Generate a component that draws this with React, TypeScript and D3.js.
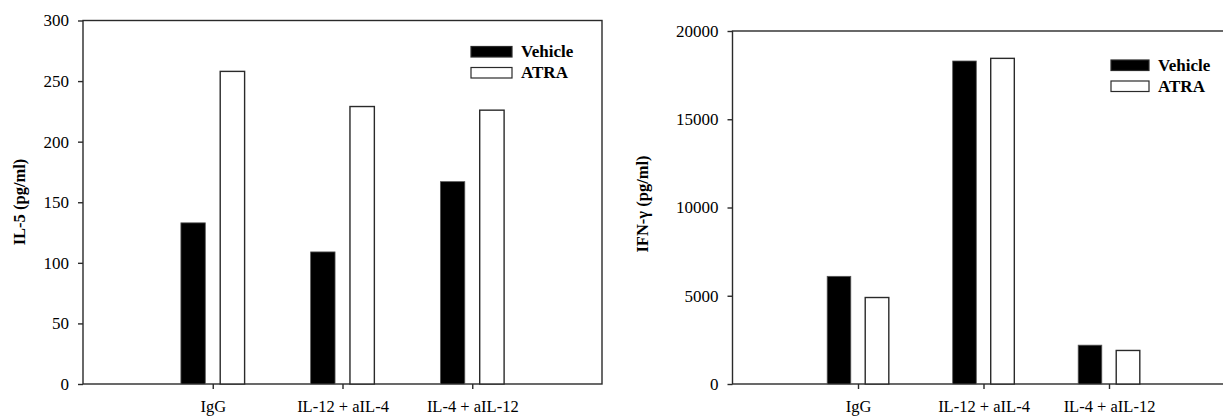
import React, { useEffect, useRef } from 'react';
import * as d3 from 'd3';

const categories = ['IgG', 'IL-12 + aIL-4', 'IL-4 + aIL-12'];
const seriesNames = ['Vehicle', 'ATRA'];

// IL-5 (pg/ml)
const il5Vehicle = [133, 109, 167];
const il5Atra = [258, 229, 226];
const il5Ticks = [0, 50, 100, 150, 200, 250, 300];

// IFN-γ (pg/ml)
const ifnVehicle = [6100, 18300, 2200];
const ifnAtra = [4900, 18450, 1900];
const ifnTicks = [0, 5000, 10000, 15000, 20000];

const FONT = '"Liberation Serif", "Times New Roman", serif';
const LINE = '#2a2a2a';

interface PanelSpec {
  left: number;
  right: number;
  top: number;
  bottom: number;
  yMax: number;
  ticks: number[];
  vehicle: number[];
  atra: number[];
  title: string;
  titleX: number;
  titleY: number;
  legendX: number;
  legendY: number;
  legendW: number;
}

const panels: PanelSpec[] = [
  {
    left: 83, right: 602, top: 20.5, bottom: 384, yMax: 300, ticks: il5Ticks,
    vehicle: il5Vehicle, atra: il5Atra, title: 'IL-5 (pg/ml)', titleX: 25, titleY: 202,
    legendX: 471, legendY: 46.5, legendW: 41,
  },
  {
    left: 732.5, right: 1234.5, top: 31, bottom: 384, yMax: 20000, ticks: ifnTicks,
    vehicle: ifnVehicle, atra: ifnAtra, title: 'IFN-γ (pg/ml)', titleX: 648, titleY: 204,
    legendX: 1111, legendY: 60, legendW: 38,
  },
];

function drawPanel(svg: d3.Selection<SVGSVGElement, unknown, null, undefined>, p: PanelSpec) {
  const g = svg.append('g');

  // category positions 1..3 on a 0..4 axis
  const x = d3.scaleLinear().domain([0, 4]).range([p.left, p.right]);
  const y = d3.scaleLinear().domain([0, p.yMax]).range([p.bottom, p.top]);
  const step = x(1) - x(0);
  const barW = step * 0.188;
  const gap = step * 0.115;
  const x1 = d3
    .scaleBand<string>()
    .domain(seriesNames)
    .range([-(barW + gap / 2), barW + gap / 2])
    .paddingInner(gap / (barW + gap));

  // frame
  g.append('rect')
    .attr('x', p.left)
    .attr('y', p.top)
    .attr('width', p.right - p.left)
    .attr('height', p.bottom - p.top)
    .attr('fill', 'none')
    .attr('stroke', LINE)
    .attr('stroke-width', 1.4);

  // bars
  const rows = categories.map((c, i) => ({ c, i, vals: [p.vehicle[i], p.atra[i]] }));
  rows.forEach((r) => {
    r.vals.forEach((v, k) => {
      const s = seriesNames[k];
      g.append('rect')
        .attr('x', x(r.i + 1) + (x1(s) as number))
        .attr('y', y(v))
        .attr('width', x1.bandwidth())
        .attr('height', y(0) - y(v))
        .attr('fill', k === 0 ? '#000' : '#fff')
        .attr('stroke', k === 0 ? '#555' : LINE)
        .attr('stroke-width', k === 0 ? 0.8 : 1.4);
    });
  });

  // y axis
  const yAxis = d3.axisLeft(y).tickValues(p.ticks).tickSize(5).tickPadding(9).tickFormat((d) => String(d));
  const ya = g.append('g').attr('transform', `translate(${p.left},0)`).call(yAxis);
  ya.select('.domain').remove();
  ya.selectAll('line').attr('stroke', LINE).attr('stroke-width', 1.4);
  ya.selectAll('text').attr('font-family', FONT).attr('font-size', 17).attr('fill', '#000');

  // x axis
  const xAxis = d3
    .axisBottom(x)
    .tickValues([1, 2, 3])
    .tickSize(5)
    .tickPadding(11)
    .tickFormat((d) => categories[(d as number) - 1]);
  const xa = g.append('g').attr('transform', `translate(0,${p.bottom})`).call(xAxis);
  xa.select('.domain').remove();
  xa.selectAll('line').attr('stroke', LINE).attr('stroke-width', 1.4);
  xa.selectAll('text').attr('font-family', FONT).attr('font-size', 16.5).attr('fill', '#000');

  // y title
  g.append('text')
    .attr('transform', `translate(${p.titleX},${p.titleY}) rotate(-90)`)
    .attr('text-anchor', 'middle')
    .attr('font-family', FONT)
    .attr('font-weight', 'bold')
    .attr('font-size', 16.5)
    .text(p.title);

  // legend
  seriesNames.forEach((s, k) => {
    const ly = p.legendY + k * 21;
    g.append('rect')
      .attr('x', p.legendX)
      .attr('y', ly)
      .attr('width', p.legendW)
      .attr('height', 10.5)
      .attr('fill', k === 0 ? '#000' : '#fff')
      .attr('stroke', LINE)
      .attr('stroke-width', 1.2);
    g.append('text')
      .attr('x', p.legendX + p.legendW + 9)
      .attr('y', ly + 10.5)
      .attr('font-family', FONT)
      .attr('font-weight', 'bold')
      .attr('font-size', 17)
      .text(s);
  });
}

export default function App() {
  const svgRef = useRef<SVGSVGElement | null>(null);

  useEffect(() => {
    if (!svgRef.current) return;
    const svg = d3.select(svgRef.current);
    svg.selectAll('*').remove();
    svg.append('rect').attr('width', 1223).attr('height', 416).attr('fill', '#fff');
    panels.forEach((p) => drawPanel(svg, p));
  }, []);

  return (
    <svg
      ref={svgRef}
      width={1223}
      height={416}
      style={{ position: 'absolute', left: 0, top: 0, display: 'block' }}
    />
  );
}
